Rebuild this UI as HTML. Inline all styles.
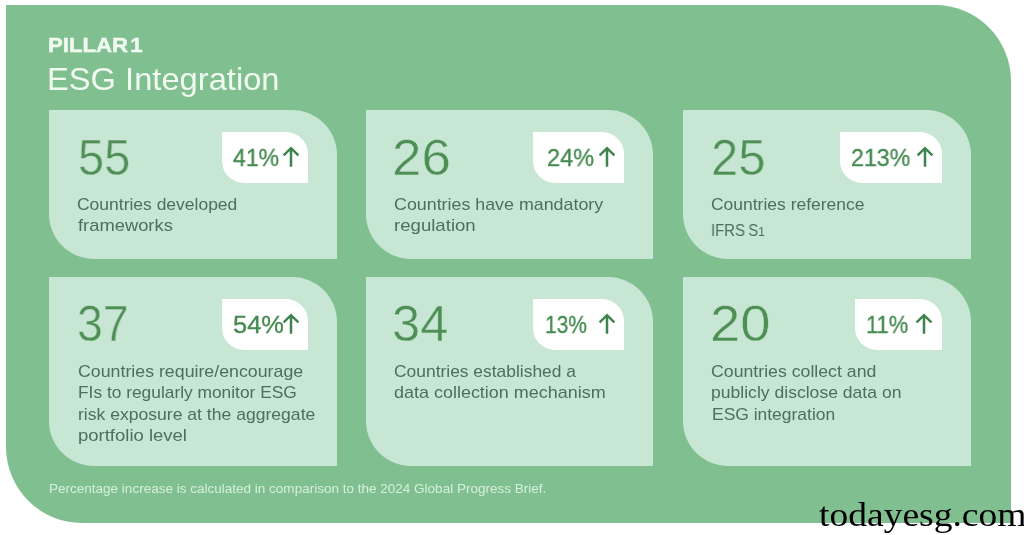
<!DOCTYPE html>
<html lang="en">
<head>
<meta charset="utf-8">
<title>Pillar 1 - ESG Integration</title>
<style>
*{margin:0;padding:0;box-sizing:border-box}
html,body{width:1024px;height:535px;overflow:hidden;background:#fff}
body{position:relative;font-family:"Liberation Sans",sans-serif}
.panel{position:absolute;left:6.0px;top:5.0px;width:1005.2px;height:518.0px;background:#80c090;border-radius:0 76px 0 76px}
.card{position:absolute;background:#c8e6d4;border-radius:0 45px 0 45px}
.badge{position:absolute;background:#fefffe;border-radius:0 22px 0 22px}
.desc{position:absolute;left:0;top:0}
.t{position:absolute;display:block;white-space:nowrap;line-height:1;transform-origin:0 50%;will-change:transform}
.os{font-size:.8em}
.arr{position:absolute;overflow:visible}
.pillar{font-family:"Liberation Sans",sans-serif;font-size:20px;font-weight:bold;-webkit-text-stroke:0.5px #f1faf1;color:#f1faf1}
.title{font-family:"Liberation Sans",sans-serif;font-size:32px;font-weight:normal;color:#f1faf1}
.num{font-family:"Liberation Sans",sans-serif;font-size:50.6px;font-weight:normal;-webkit-text-stroke:0.5px #c8e6d4;color:#4e8f55}
.pct{font-family:"Liberation Sans",sans-serif;font-size:24.6px;font-weight:normal;-webkit-text-stroke:0.35px #468b52;color:#468b52}
.lbl{font-family:"Liberation Sans",sans-serif;font-size:17px;font-weight:normal;color:#4c6f5e}
.foot{font-family:"Liberation Sans",sans-serif;font-size:13.5px;font-weight:normal;color:#d6efda}
.wm{font-family:"Liberation Serif",serif;font-size:34px;font-weight:normal;color:#000}
</style>
</head>
<body>
<main class="panel">
<header>
<div id="pillar" class="t pillar" style="left:41.89px;top:30.47px;transform:scaleX(1.1071)"><span style="word-spacing:-3.5px">PILLAR 1</span></div>
<h1 id="title" class="t title" style="left:40.64px;top:58.11px;transform:scaleX(1.0211)">ESG Integration</h1>
</header>
<section class="card" style="left:43.3px;top:105.0px;width:287.8px;height:148.8px">
  <div id="n1" class="t num" style="left:28.82px;top:22.57px;transform:scaleX(0.9275)">55</div>
  <div class="badge" style="left:173.1px;top:21.8px;width:85.7px;height:51.0px">
    <span id="p1" class="t pct" style="left:10.80px;top:13.88px;transform:scaleX(0.9375)">41%</span>
    <svg class="arr" style="left:58.30px;top:14.20px" width="20" height="22" viewBox="0 0 20 22"><path d="M10 2V20.8M2.6 9.3L10 2.2l7.4 7.1" fill="none" stroke="#3f8450" stroke-width="2.5" stroke-linejoin="miter" stroke-linecap="butt"/></svg>
  </div>
  <p class="desc">
    <span id="l1a" class="t lbl" style="left:27.97px;top:85.51px;transform:scaleX(1.0279)">Countries developed</span>
    <span id="l1b" class="t lbl" style="left:28.60px;top:107.01px;transform:scaleX(1.0793)">frameworks</span>
  </p>
</section>
<section class="card" style="left:360.2px;top:105.0px;width:287.3px;height:148.8px">
  <div id="n2" class="t num" style="left:26.06px;top:22.57px;transform:scaleX(1.0451)">26</div>
  <div class="badge" style="left:166.7px;top:21.8px;width:90.9px;height:51.0px">
    <span id="p2" class="t pct" style="left:14.24px;top:13.88px;transform:scaleX(0.9574)">24%</span>
    <svg class="arr" style="left:64.40px;top:14.20px" width="20" height="22" viewBox="0 0 20 22"><path d="M10 2V20.8M2.6 9.3L10 2.2l7.4 7.1" fill="none" stroke="#3f8450" stroke-width="2.5" stroke-linejoin="miter" stroke-linecap="butt"/></svg>
  </div>
  <p class="desc">
    <span id="l2a" class="t lbl" style="left:27.45px;top:85.51px;transform:scaleX(1.0490)">Countries have mandatory</span>
    <span id="l2b" class="t lbl" style="left:27.61px;top:107.01px;transform:scaleX(1.0945)">regulation</span>
  </p>
</section>
<section class="card" style="left:676.8px;top:105.0px;width:288.2px;height:148.8px">
  <div id="n3" class="t num" style="left:28.20px;top:22.57px;transform:scaleX(0.9667)">25</div>
  <div class="badge" style="left:157.3px;top:21.8px;width:101.6px;height:51.0px">
    <span id="p3" class="t pct" style="left:11.16px;top:13.88px;transform:scaleX(0.9426)">213%</span>
    <svg class="arr" style="left:74.50px;top:14.20px" width="20" height="22" viewBox="0 0 20 22"><path d="M10 2V20.8M2.6 9.3L10 2.2l7.4 7.1" fill="none" stroke="#3f8450" stroke-width="2.5" stroke-linejoin="miter" stroke-linecap="butt"/></svg>
  </div>
  <p class="desc">
    <span id="l3a" class="t lbl" style="left:28.47px;top:85.51px;transform:scaleX(1.0277)">Countries reference</span>
    <span id="l3b" class="t lbl" style="left:28.45px;top:112.31px;transform:scaleX(0.8763)"><span style="word-spacing:-1px">IFRS S</span><span class="os">1</span></span>
  </p>
</section>
<section class="card" style="left:43.3px;top:272.4px;width:287.8px;height:188.4px">
  <div id="n4" class="t num" style="left:27.85px;top:22.07px;transform:scaleX(0.9176)">37</div>
  <div class="badge" style="left:173.1px;top:21.2px;width:85.7px;height:51.1px">
    <span id="p4" class="t pct" style="left:10.37px;top:14.18px;transform:scaleX(1.0340)">54%</span>
    <svg class="arr" style="left:58.40px;top:14.40px" width="20" height="22" viewBox="0 0 20 22"><path d="M10 2V20.8M2.6 9.3L10 2.2l7.4 7.1" fill="none" stroke="#3f8450" stroke-width="2.5" stroke-linejoin="miter" stroke-linecap="butt"/></svg>
  </div>
  <p class="desc">
    <span id="l4a" class="t lbl" style="left:28.36px;top:85.41px;transform:scaleX(1.0449)">Countries require/encourage</span>
    <span id="l4b" class="t lbl" style="left:28.88px;top:106.91px;transform:scaleX(1.0203)">FIs to regularly monitor ESG</span>
    <span id="l4c" class="t lbl" style="left:28.37px;top:128.51px;transform:scaleX(1.0333)">risk exposure at the aggregate</span>
    <span id="l4d" class="t lbl" style="left:28.51px;top:150.01px;transform:scaleX(1.0878)">portfolio level</span>
  </p>
</section>
<section class="card" style="left:360.2px;top:272.4px;width:287.3px;height:188.4px">
  <div id="n5" class="t num" style="left:26.22px;top:22.07px;transform:scaleX(0.9942)">34</div>
  <div class="badge" style="left:166.7px;top:21.2px;width:90.9px;height:51.1px">
    <span id="p5" class="t pct" style="left:12.30px;top:14.18px;transform:scaleX(0.8522)">13%</span>
    <svg class="arr" style="left:64.30px;top:14.40px" width="20" height="22" viewBox="0 0 20 22"><path d="M10 2V20.8M2.6 9.3L10 2.2l7.4 7.1" fill="none" stroke="#3f8450" stroke-width="2.5" stroke-linejoin="miter" stroke-linecap="butt"/></svg>
  </div>
  <p class="desc">
    <span id="l5a" class="t lbl" style="left:27.48px;top:85.41px;transform:scaleX(1.0243)">Countries established a</span>
    <span id="l5b" class="t lbl" style="left:27.44px;top:106.91px;transform:scaleX(1.0566)">data collection mechanism</span>
  </p>
</section>
<section class="card" style="left:676.8px;top:272.4px;width:288.2px;height:188.4px">
  <div id="n6" class="t num" style="left:26.77px;top:22.07px;transform:scaleX(1.0765)">20</div>
  <div class="badge" style="left:171.8px;top:21.2px;width:87.3px;height:51.1px">
    <span id="p6" class="t pct" style="left:11.72px;top:14.18px;transform:scaleX(0.8911)">11%</span>
    <svg class="arr" style="left:59.70px;top:14.40px" width="20" height="22" viewBox="0 0 20 22"><path d="M10 2V20.8M2.6 9.3L10 2.2l7.4 7.1" fill="none" stroke="#3f8450" stroke-width="2.5" stroke-linejoin="miter" stroke-linecap="butt"/></svg>
  </div>
  <p class="desc">
    <span id="l6a" class="t lbl" style="left:28.36px;top:85.41px;transform:scaleX(1.0414)">Countries collect and</span>
    <span id="l6b" class="t lbl" style="left:28.67px;top:106.91px;transform:scaleX(1.0335)">publicly disclose data on</span>
    <span id="l6c" class="t lbl" style="left:28.87px;top:128.51px;transform:scaleX(1.0263)">ESG integration</span>
  </p>
</section>
<p id="foot" class="t foot" style="left:43.20px;top:476.97px;transform:scaleX(1.0010)">Percentage increase is calculated in comparison to the 2024 Global Progress Brief.</p>
</main>
<div id="wm" class="t wm" style="left:819.10px;top:498.02px;transform:scaleX(1.1043)">todayesg.com</div>
</body>
</html>
